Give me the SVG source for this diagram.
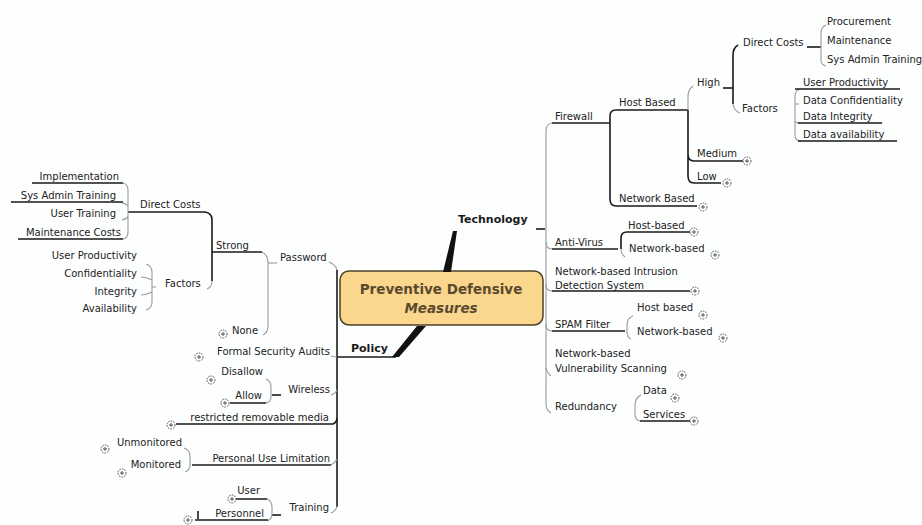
<svg xmlns="http://www.w3.org/2000/svg" width="922" height="525" viewBox="0 0 922 525">
<style>
.t{font-family:"DejaVu Sans","Liberation Sans",sans-serif;font-size:10px;fill:#222}
.e{text-anchor:end}
.b{font-size:11px;font-weight:bold;fill:#1a1a1a}
.k{stroke:#1a1a1a;stroke-width:1.6;fill:none}
.g{stroke:#9a9a9a;stroke-width:1.1;fill:none}
.ic circle{fill:#fff;stroke:#555;stroke-width:1;stroke-dasharray:1.6 1}
.ic path{stroke:#555;stroke-width:1;fill:none}
</style>
<defs>
<g id="ic" class="ic"><circle r="4"/><path d="M-2,0H2M0,-2V2"/></g>
</defs>
<rect width="922" height="525" fill="#fdfefe"/>

<g id="connectors">
<!-- technology side -->
<path class="k" d="M536,229H545"/>
<path class="g" d="M552,123Q546,124 546,131V404Q546,410 551,413"/>
<path class="g" d="M546,242Q546,249 552,249M546,284Q546,291 552,291M546,324Q546,331 552,331M546,368Q547,373 551,376"/>
<path class="k" d="M552,123H610"/>
<path class="k" d="M616,110Q610,110 610,116V199Q610,206 616,206"/>
<path class="k" d="M616,110H688"/>
<path class="g" d="M693,86Q688,90 688,96V110"/>
<path class="k" d="M688,110V176Q688,183 694,183M688,154Q688,161 694,161"/>
<path class="k" d="M694,161H743M694,183H721M616,206H697"/>
<path class="k" d="M723,88H733"/>
<path class="k" d="M738,45Q733,48 733,55V104"/>
<path class="g" d="M733,104Q734,111 740,113"/>
<path class="k" d="M807,47H821"/>
<path class="g" d="M826,25Q821,27 821,33V60Q821,65 826,66"/>
<path class="g" d="M801,89Q795,90 795,96V135Q795,141 801,141M795,104H799M795,121Q796,123 799,123"/>
<path class="k" d="M795,89H900M798,123H882M798,141H897"/>
<path class="k" d="M552,249H618"/>
<path class="k" d="M627,232Q621,232 621,238V249"/>
<path class="g" d="M621,249Q621,254 625,257"/>
<path class="k" d="M627,232H690"/>
<path class="k" d="M552,291H690"/>
<path class="k" d="M552,331H625"/>
<path class="g" d="M633,316Q627,318 627,325V332Q627,337 631,339"/>
<path class="g" d="M641,395Q635,398 635,405V414Q635,420 640,421"/>
<path class="k" d="M640,421H690"/>

<!-- policy side -->
<path class="k" d="M337,270V507"/>
<path class="g" d="M329,262Q335,264 337,270"/>
<path class="k" d="M337,357H396"/>
<path class="g" d="M331,356Q335,357 337,357M331,395Q335,394 337,390M331,465Q335,463 337,459M331,513Q336,511 337,506"/>
<path class="k" d="M176,424H333Q337,422 337,418"/>
<path class="k" d="M192,465H331"/>
<path class="g" d="M262,252Q268,255 268,263V326Q268,332 263,335"/>
<path class="g" d="M268,263H277"/>
<path class="k" d="M212,252H262"/>
<path class="k" d="M205,212Q212,213 212,220V281"/>
<path class="g" d="M212,281Q212,287 207,289"/>
<path class="k" d="M128,212H205"/>
<path class="g" d="M123,183Q128,184 128,190V232Q128,238 123,239M122,203Q127,204 128,206M122,220Q127,219 128,216"/>
<path class="k" d="M32,183H123M11,202H123M18,239H123"/>
<path class="g" d="M146,264Q152,266 152,272V302Q152,308 146,310M152,287H156M141,277Q146,277 152,280M141,295Q146,295 152,292"/>
<path class="k" d="M272,395H281"/>
<path class="g" d="M266,379Q271,381 271,387V397Q271,402 266,403"/>
<path class="k" d="M230,403H266"/>
<path class="g" d="M184,448Q190,450 190,456V465Q190,470 185,472"/>
<path class="k" d="M272,515H281"/>
<path class="g" d="M267,499Q272,501 272,507V514Q272,519 267,521"/>
<path class="k" d="M236,499H267M195,520H268M198,511V519"/>
</g>

<g id="center">
<rect x="340" y="271" width="203" height="54" rx="9" fill="#fbd78e" stroke="#4d4129" stroke-width="1.5"/>
<text x="441" y="294" text-anchor="middle" style="font-family:'DejaVu Sans',sans-serif;font-size:13.5px;font-weight:bold;fill:#5a4a30">Preventive Defensive</text>
<text x="441" y="313" text-anchor="middle" style="font-family:'DejaVu Sans',sans-serif;font-size:13.5px;font-style:italic;font-weight:bold;fill:#5a4a30">Measures</text>
</g>

<g id="technology">
<polygon points="443,272 451,272 457,231 453,231" fill="#111"/>
<text class="t b" x="458" y="223">Technology</text>
</g>
<g id="policy">
<polygon points="417,326 426,326 399,357 392,357" fill="#111"/>
<text class="t b" x="351" y="352">Policy</text>
</g>

<g id="firewall"><text class="t" x="555" y="120">Firewall</text></g>
<g id="host-based"><text class="t" x="619" y="106">Host Based</text></g>
<g id="high"><text class="t" x="697" y="86">High</text></g>
<g id="direct-costs-r"><text class="t" x="743" y="46">Direct Costs</text></g>
<g id="procurement"><text class="t" x="827" y="25">Procurement</text></g>
<g id="maintenance"><text class="t" x="827" y="44">Maintenance</text></g>
<g id="sys-admin-r"><text class="t" x="827" y="63">Sys Admin Training</text></g>
<g id="factors-r"><text class="t" x="742" y="112">Factors</text></g>
<g id="user-prod-r"><text class="t" x="803" y="86">User Productivity</text></g>
<g id="data-conf"><text class="t" x="803" y="104">Data Confidentiality</text></g>
<g id="data-int"><text class="t" x="803" y="120">Data Integrity</text></g>
<g id="data-avail"><text class="t" x="803" y="138">Data availability</text></g>
<g id="medium"><text class="t" x="697" y="157">Medium</text><use href="#ic" x="747" y="161"/></g>
<g id="low"><text class="t" x="697" y="180">Low</text><use href="#ic" x="727" y="183"/></g>
<g id="network-based-fw"><text class="t" x="619" y="202">Network Based</text><use href="#ic" x="703" y="207"/></g>
<g id="anti-virus"><text class="t" x="555" y="246">Anti-Virus</text></g>
<g id="av-host"><text class="t" x="628" y="229">Host-based</text><use href="#ic" x="694" y="232"/></g>
<g id="av-net"><text class="t" x="629" y="252">Network-based</text><use href="#ic" x="715" y="255"/></g>
<g id="nids"><text class="t" x="555" y="275">Network-based Intrusion</text><text class="t" x="555" y="289">Detection System</text><use href="#ic" x="695" y="291"/></g>
<g id="spam"><text class="t" x="555" y="328">SPAM Filter</text></g>
<g id="spam-host"><text class="t" x="637" y="311">Host based</text><use href="#ic" x="703" y="315"/></g>
<g id="spam-net"><text class="t" x="637" y="335">Network-based</text><use href="#ic" x="723" y="338"/></g>
<g id="nvs"><text class="t" x="555" y="357">Network-based</text><text class="t" x="555" y="372">Vulnerability Scanning</text><use href="#ic" x="682" y="375"/></g>
<g id="redundancy"><text class="t" x="555" y="410">Redundancy</text></g>
<g id="data"><text class="t" x="643" y="394">Data</text><use href="#ic" x="675" y="398"/></g>
<g id="services"><text class="t" x="643" y="418">Services</text><use href="#ic" x="694" y="421"/></g>

<g id="password"><text class="t" x="280" y="261">Password</text></g>
<g id="strong"><text class="t" x="216" y="249">Strong</text></g>
<g id="direct-costs-l"><text class="t" x="140" y="208">Direct Costs</text></g>
<g id="implementation"><text class="t e" x="119" y="180">Implementation</text></g>
<g id="sys-admin-l"><text class="t e" x="116" y="199">Sys Admin Training</text></g>
<g id="user-training"><text class="t e" x="116" y="217">User Training</text></g>
<g id="maint-costs"><text class="t e" x="121" y="236">Maintenance Costs</text></g>
<g id="factors-l"><text class="t" x="165" y="287">Factors</text></g>
<g id="user-prod-l"><text class="t e" x="137" y="259">User Productivity</text></g>
<g id="confidentiality"><text class="t e" x="137" y="277">Confidentiality</text></g>
<g id="integrity"><text class="t e" x="137" y="295">Integrity</text></g>
<g id="availability"><text class="t e" x="137" y="312">Availability</text></g>
<g id="none"><text class="t" x="232" y="334">None</text><use href="#ic" x="223" y="334"/></g>
<g id="audits"><text class="t e" x="330" y="355">Formal Security Audits</text><use href="#ic" x="199" y="357"/></g>
<g id="wireless"><text class="t e" x="330" y="393">Wireless</text></g>
<g id="disallow"><text class="t e" x="263" y="375">Disallow</text><use href="#ic" x="211" y="380"/></g>
<g id="allow"><text class="t e" x="262" y="399">Allow</text><use href="#ic" x="225" y="403"/></g>
<g id="media"><text class="t e" x="329" y="421">restricted removable media</text><use href="#ic" x="171" y="425"/></g>
<g id="personal-use"><text class="t e" x="330" y="462">Personal Use Limitation</text></g>
<g id="unmonitored"><text class="t e" x="182" y="446">Unmonitored</text><use href="#ic" x="105" y="449"/></g>
<g id="monitored"><text class="t e" x="181" y="468">Monitored</text><use href="#ic" x="122" y="473"/></g>
<g id="training"><text class="t e" x="329" y="511">Training</text></g>
<g id="user"><text class="t e" x="260" y="494">User</text><use href="#ic" x="232" y="499"/></g>
<g id="personnel"><text class="t e" x="264" y="517">Personnel</text><use href="#ic" x="188" y="520"/></g>
</svg>
